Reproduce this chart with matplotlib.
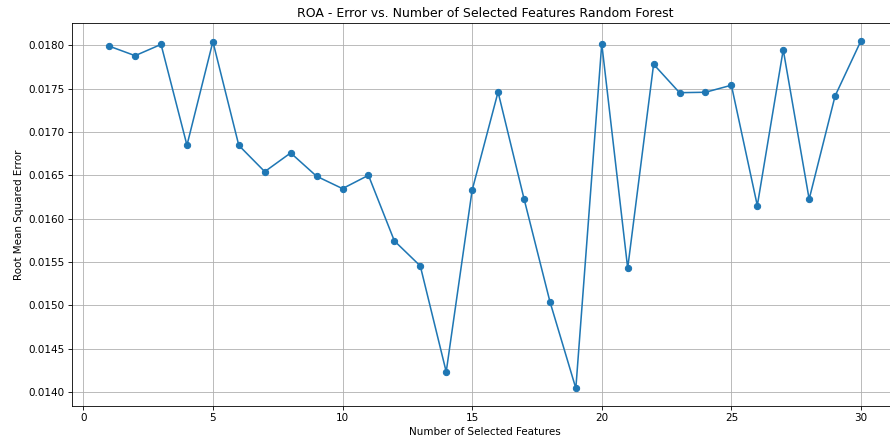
import matplotlib
matplotlib.use("Agg")
import matplotlib.pyplot as plt

features = list(range(1, 31))
rmse = [0.01799, 0.01788, 0.01801, 0.016847, 0.018042, 0.016845, 0.016542, 0.016758,
        0.016489, 0.016346, 0.016500, 0.015743, 0.015454, 0.014232, 0.016328, 0.017461,
        0.016231, 0.015043, 0.014042, 0.018018, 0.015428, 0.017781, 0.017453, 0.017458,
        0.017539, 0.016150, 0.017949, 0.016224, 0.017415, 0.018053]

DPI = 75
fig = plt.figure(figsize=(890 / DPI, 443 / DPI), dpi=DPI)
ax = fig.add_axes([71.6 / 890, (443 - 405.7) / 443, 827 / 890, 382.4 / 443])
ax.plot(features, rmse, marker='o', color='#1f77b4')
ax.set_title('ROA - Error vs. Number of Selected Features Random Forest')
ax.set_xlabel('Number of Selected Features')
ax.set_ylabel('Root Mean Squared Error')
ax.grid(True)
fig.savefig('out.png', dpi=DPI)
